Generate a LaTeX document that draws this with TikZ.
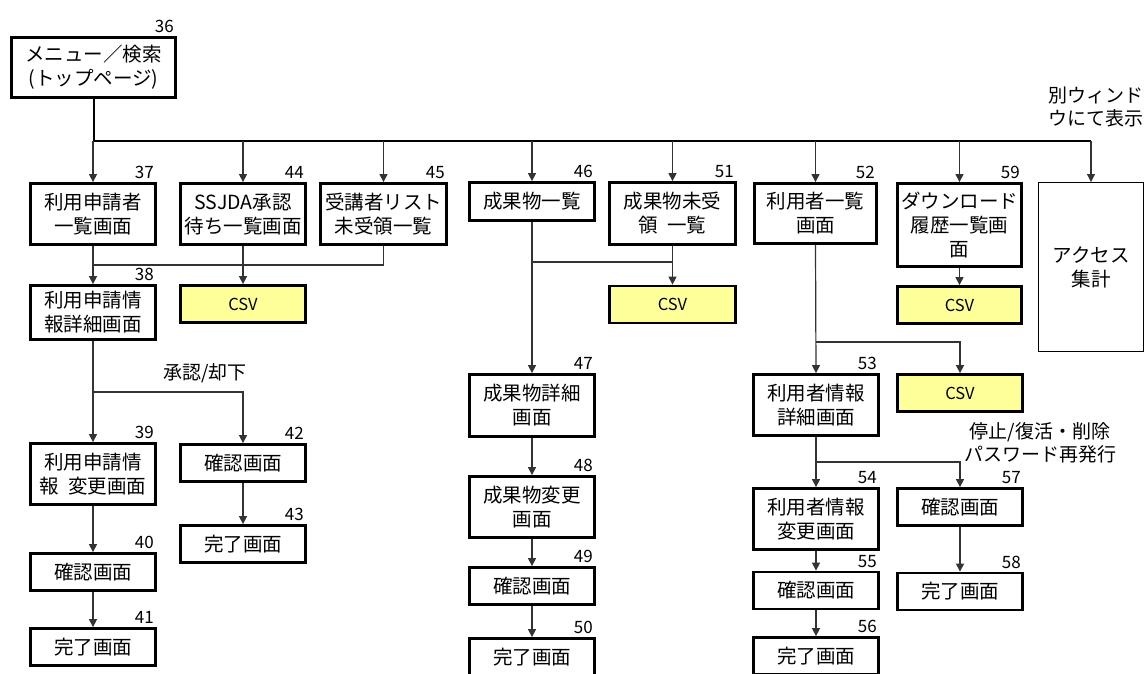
\documentclass[tikz,border=0pt]{standalone}
\usepackage{fontspec}
\setmainfont{Noto Sans CJK JP}
\usepackage{xcolor}
\usepackage{tikz}
\usetikzlibrary{arrows.meta,positioning,calc}

\definecolor{csvyellow}{RGB}{255,255,153}

\begin{document}
\begin{tikzpicture}[x=1pt, y=-1pt,
  screen/.style={draw=black, line width=2.8pt, fill=white, align=center,
    minimum width=125pt, minimum height=61pt, inner sep=2pt,
    font=\fontsize{19.5}{24}\selectfont},
  csvbox/.style={screen, fill=csvyellow, minimum height=37pt,
    font=\fontsize{16.5}{20}\selectfont},
  winbox/.style={draw=black, line width=1pt, fill=white, align=center,
    font=\fontsize{19.5}{24}\selectfont},
  num/.style={inner sep=0pt, font=\fontsize{17}{18}\selectfont},
  note/.style={align=center, inner sep=0pt, font=\fontsize{19}{23}\selectfont},
  bus/.style={line width=2pt, draw=black},
  link/.style={line width=1.2pt, draw=black!80},
  flow/.style={link, -{Triangle[length=8pt,width=8pt]}}
]
\clip (0,0) rectangle (1146,673);
\fill[white] (0,0) rectangle (1146,673);

% top page
\node[screen, minimum width=164pt, minimum height=60pt] (b36) at (93.5,67.5) {メニュー／検索\\(トップページ)};

% first row
\node[screen] (b37) at (93,214) {利用申請者\\一覧画面};
\node[screen] (b44) at (243,214) {SSJDA承認\\待ち一覧画面};
\node[screen, minimum width=126pt] (b45) at (383.5,214) {受講者リスト\\未受領一覧};
\node[screen, minimum height=38pt] (b46) at (532,201.5) {成果物一覧};
\node[screen, minimum width=126pt, minimum height=62pt] (b51) at (672.5,213.5) {成果物未受\\領\hspace{0.45em}一覧};
\node[screen, minimum width=122pt, minimum height=60pt] (b52) at (815.5,213.5) {利用者一覧\\画面};
\node[screen, minimum width=124pt, minimum height=83pt] (b59) at (959.5,225) {ダウンロード\\履歴一覧画\\面};
\node[winbox, minimum width=105pt, minimum height=169pt] (b60) at (1091,267) {アクセス\\集計};

% csv outputs
\node[csvbox] (c44) at (243,304) {CSV};
\node[csvbox, minimum width=126pt] (c51) at (672.5,304.5) {CSV};
\node[csvbox, minimum width=124pt] (c59) at (959.5,305) {CSV};
\node[csvbox] (c53) at (960,393) {CSV};

% applicant column
\node[screen, minimum height=54pt] (b38) at (93,312.5) {利用申請情\\報詳細画面};
\node[screen] (b39) at (93,474) {利用申請情\\報\hspace{0.45em}変更画面};
\node[screen, minimum height=37pt] (b40) at (93,572) {確認画面};
\node[screen, minimum height=37pt] (b41) at (93,647) {完了画面};
\node[screen, minimum height=37pt] (b42) at (243,463) {確認画面};
\node[screen, minimum height=37pt] (b43) at (243,544) {完了画面};

% results column
\node[screen, minimum height=62pt] (b47) at (532,405.5) {成果物詳細\\画面};
\node[screen] (b48) at (532,507) {成果物変更\\画面};
\node[screen, minimum height=37pt] (b49) at (532,586) {確認画面};
\node[screen, minimum height=37pt] (b50) at (532,657) {完了画面};

% user column
\node[screen] (b53) at (816,405) {利用者情報\\詳細画面};
\node[screen] (b54) at (816,519) {利用者情報\\変更画面};
\node[screen, minimum height=37pt] (b55) at (816,590.5) {確認画面};
\node[screen, minimum height=37pt] (b56) at (816,656) {完了画面};
\node[screen, minimum height=37pt] (b57) at (960,507) {確認画面};
\node[screen, minimum height=37pt] (b58) at (960,591.5) {完了画面};

% screen numbers
\foreach \n in {36,37,38,39,40,41,42,43,44,45,46,47,48,49,50,51,52,53,54,55,56,57,58,59}
  \node[num, above left=3pt and 3pt of b\n.north east] (n\n) {\n};

% notes
\node[note] (approve) at (205,373) {承認/却下};
\node[note] (newwin) at (1096,107) {別ウィンド\\ウにて表示};
\node[note] (suspend) at (1040,443) {停止/復活・削除\\パスワード再発行};

% branch points
\coordinate (busend) at (1091,141);
\coordinate (join38) at (93,265);
\coordinate (join51) at (673,262);
\coordinate (join53) at (960,342);
\coordinate (join42) at (243,392);
\coordinate (join57) at (960,462);

% connectors
\draw[bus] (b36.south) |- (busend);
\foreach \b in {b37,b44,b45,b46,b51,b52,b59,b60}
  \draw[flow] (\b.north |- busend) -- (\b.north);

\draw[flow] (b37.south) -- (b38.north);
\draw[link] (b45.south) |- (join38);
\draw[flow] (b44.south) -- (c44.north);

\draw[flow] (b46.south) -- (b47.north);
\draw[link] (join51 -| b46.south) -- (join51);
\draw[flow] (b51.south) -- (c51.north);
\draw[flow] (b59.south) -- (c59.north);

\draw[flow] (b52.south) -- (b53.north);
\draw[flow] (join53 -| b52.south) -| (c53.north);
\draw[flow] (b53.south) -- (b54.north);
\draw[flow] (join57 -| b53.south) -| (b57.north);
\draw[flow] (b54.south) -- (b55.north);
\draw[flow] (b55.south) -- (b56.north);
\draw[flow] (b57.south) -- (b58.north);

\draw[flow] (b38.south) -- (b39.north);
\draw[flow] (join42 -| b38.south) -| (b42.north);
\draw[flow] (b39.south) -- (b40.north);
\draw[flow] (b40.south) -- (b41.north);
\draw[flow] (b42.south) -- (b43.north);

\draw[flow] (b47.south) -- (b48.north);
\draw[flow] (b48.south) -- (b49.north);
\draw[flow] (b49.south) -- (b50.north);
\end{tikzpicture}
\end{document}
